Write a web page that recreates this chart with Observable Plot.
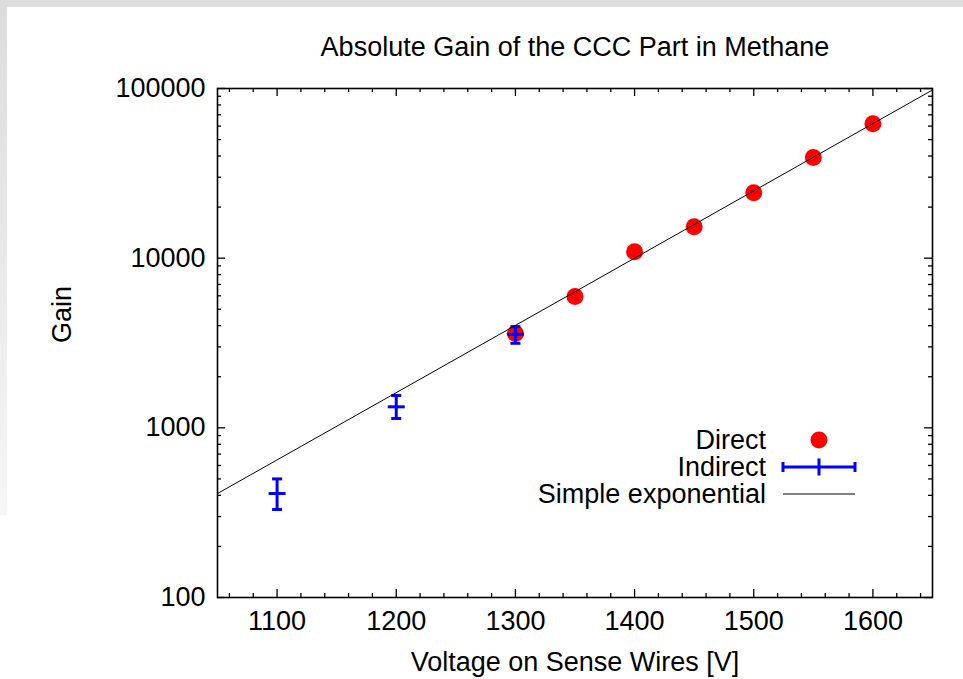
<!DOCTYPE html>
<html>
<head>
<meta charset="utf-8">
<script src="https://cdn.jsdelivr.net/npm/d3@7"></script>
<script src="https://cdn.jsdelivr.net/npm/@observablehq/plot@0.6"></script>
<style>
  html, body { margin: 0; padding: 0; background: #fff; }
  body { width: 963px; height: 679px; position: relative; overflow: hidden; font-family: "Liberation Sans", Arial, sans-serif; }
  #topbar { position: absolute; left: 0; top: 0; width: 963px; height: 7px; background: #dcdcdc; }
  #leftbar { position: absolute; left: 0; top: 0; width: 7px; height: 515px; background: linear-gradient(#dcdcdc, #f6f6f6); }
  #chart { position: absolute; left: 0; top: 0; }
  #legend { position: absolute; left: 0; top: 0; }
</style>
</head>
<body>
<div id="topbar"></div>
<div id="leftbar"></div>
<div id="chart"></div>
<svg id="legend" width="963" height="679"></svg>
<script>
const title = "Absolute Gain of the CCC Part in Methane";
const xLabel = "Voltage on Sense Wires [V]";
const yLabel = "Gain";

const directV = [1300, 1350, 1400, 1450, 1500, 1550, 1600];
const directGain = [3600, 5950, 10900, 15300, 24300, 39200, 62000];

const indirectV = [1100, 1200, 1300];
const indirectGain = [410, 1330, 3560];
const indirectLow = [330, 1135, 3150];
const indirectHigh = [500, 1550, 3950];

const fitV = [1050, 1650];
const fitGain = [410, 98000];

const xMajor = [1100, 1200, 1300, 1400, 1500, 1600];
const xMinor = [1060, 1080, 1120, 1140, 1160, 1180, 1220, 1240, 1260, 1280, 1320, 1340, 1360, 1380, 1420, 1440, 1460, 1480, 1520, 1540, 1560, 1580, 1620, 1640];
const yMajor = [100, 1000, 10000, 100000];
const yMinor = [200, 300, 400, 500, 600, 700, 800, 900, 2000, 3000, 4000, 5000, 6000, 7000, 8000, 9000, 20000, 30000, 40000, 50000, 60000, 70000, 80000, 90000];

const legendLabels = ["Direct", "Indirect", "Simple exponential"];

const direct = directV.map((v, i) => ({v, g: directGain[i]}));
const indirect = indirectV.map((v, i) => ({v, g: indirectGain[i], lo: indirectLow[i], hi: indirectHigh[i]}));
const fit = fitV.map((v, i) => ({v, g: fitGain[i]}));

const W = 963, H = 679;
const mL = 217, mR = 31, mT = 88, mB = 82;
const fw = W - mL - mR, fh = H - mT - mB;
const FS = 27;
const FONT = '"Liberation Sans", Arial, sans-serif';
const BLUE = "#0000ff", RED = "#ff0000";

const capSym = {draw(ctx, size) { const r = Math.sqrt(size / Math.PI); ctx.moveTo(-r, 0); ctx.lineTo(r, 0); }};

const plot = Plot.plot({
  width: W, height: H,
  marginLeft: mL, marginRight: mR, marginTop: mT, marginBottom: mB,
  style: {fontFamily: FONT, fontSize: FS + "px", background: "transparent", color: "#000"},
  x: {domain: [1050, 1650]},
  y: {type: "log", domain: [100, 100000]},
  marks: [
    Plot.tickX(xMajor, {x: d => d, insetTop: fh - 8, stroke: "#000", strokeWidth: 1.3}),
    Plot.tickX(xMajor, {x: d => d, insetBottom: fh - 8, stroke: "#000", strokeWidth: 1.3}),
    Plot.tickX(xMinor, {x: d => d, insetTop: fh - 4, stroke: "#000", strokeWidth: 1.3}),
    Plot.tickX(xMinor, {x: d => d, insetBottom: fh - 4, stroke: "#000", strokeWidth: 1.3}),
    Plot.tickY(yMajor, {y: d => d, insetRight: fw - 8, stroke: "#000", strokeWidth: 1.3}),
    Plot.tickY(yMajor, {y: d => d, insetLeft: fw - 8, stroke: "#000", strokeWidth: 1.3}),
    Plot.tickY(yMinor, {y: d => d, insetRight: fw - 4, stroke: "#000", strokeWidth: 1.3}),
    Plot.tickY(yMinor, {y: d => d, insetLeft: fw - 4, stroke: "#000", strokeWidth: 1.3}),
    Plot.axisX({ticks: xMajor, tickSize: 0, tickPadding: 13, tickFormat: d => String(d), label: null, fontSize: FS}),
    Plot.axisY({ticks: yMajor, tickSize: 0, tickPadding: 12, tickFormat: d => String(d), label: null, fontSize: FS}),
    Plot.frame({stroke: "#000", strokeWidth: 1.6}),
    Plot.dot(direct, {x: "v", y: "g", r: 8.5, fill: RED, stroke: "none"}),
    Plot.ruleX(indirect, {x: "v", y1: "lo", y2: "hi", stroke: BLUE, strokeWidth: 3}),
    Plot.dot(indirect, {x: "v", y: "lo", symbol: capSym, r: 5, stroke: BLUE, strokeWidth: 3, fill: "none"}),
    Plot.dot(indirect, {x: "v", y: "hi", symbol: capSym, r: 5, stroke: BLUE, strokeWidth: 3, fill: "none"}),
    Plot.dot(indirect, {x: "v", y: "g", symbol: capSym, r: 8.5, stroke: BLUE, strokeWidth: 3, fill: "none"}),
    Plot.line(fit, {x: "v", y: "g", stroke: "#000", strokeWidth: 1, clip: true}),
    Plot.text([title], {frameAnchor: "top", lineAnchor: "middle", dy: -41, fontSize: FS, fill: "#000"}),
    Plot.text([xLabel], {frameAnchor: "bottom", lineAnchor: "middle", dy: 65, fontSize: FS, fill: "#000"}),
    Plot.text([yLabel], {frameAnchor: "left", lineAnchor: "middle", dx: -155, rotate: -90, fontSize: FS, fill: "#000"})
  ]
});
document.getElementById("chart").appendChild(plot);

const lg = d3.select("#legend");
const rows = [440, 467, 494];
const textRight = 766, symL = 783, symR = 855, symC = 819;
legendLabels.forEach((t, i) => {
  lg.append("text").attr("x", textRight).attr("y", rows[i]).attr("text-anchor", "end")
    .attr("dy", "0.35em").attr("font-size", FS).attr("font-family", FONT)
    .attr("fill", "#000").text(t);
});
lg.append("circle").attr("cx", symC).attr("cy", rows[0]).attr("r", 8.5).attr("fill", RED);
lg.append("line").attr("x1", symL).attr("x2", symR).attr("y1", rows[1]).attr("y2", rows[1]).attr("stroke", BLUE).attr("stroke-width", 3);
lg.append("line").attr("x1", symL).attr("x2", symL).attr("y1", rows[1] - 5).attr("y2", rows[1] + 5).attr("stroke", BLUE).attr("stroke-width", 3);
lg.append("line").attr("x1", symR).attr("x2", symR).attr("y1", rows[1] - 5).attr("y2", rows[1] + 5).attr("stroke", BLUE).attr("stroke-width", 3);
lg.append("line").attr("x1", symC).attr("x2", symC).attr("y1", rows[1] - 8.5).attr("y2", rows[1] + 8.5).attr("stroke", BLUE).attr("stroke-width", 3);
lg.append("line").attr("x1", symL).attr("x2", symR).attr("y1", rows[2]).attr("y2", rows[2]).attr("stroke", "#000").attr("stroke-width", 1);
</script>
</body>
</html>
